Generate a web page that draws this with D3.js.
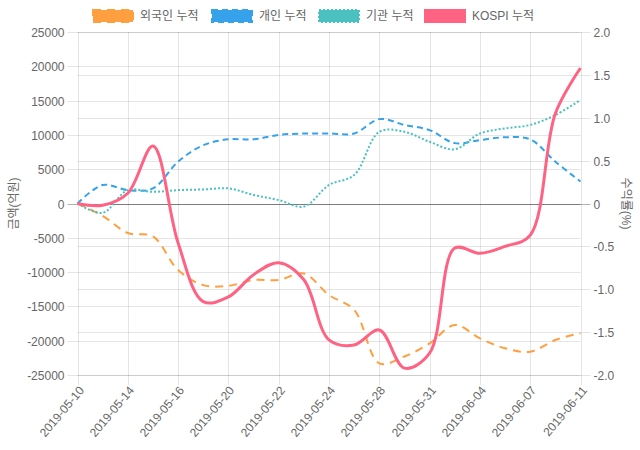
<!DOCTYPE html>
<html><head><meta charset="utf-8">
<script src="https://cdn.jsdelivr.net/npm/d3@7"></script>
<style>
html,body{margin:0;padding:0;background:#fff;}
text{font-family:"Liberation Sans","Noto Sans CJK KR",Arial,sans-serif;fill:#666;font-size:12px;}
</style></head>
<body>
<svg id="c" width="640" height="450"></svg>
<script>
const dates = ["2019-05-10","2019-05-13","2019-05-14","2019-05-15","2019-05-16","2019-05-17","2019-05-20","2019-05-21","2019-05-22","2019-05-23","2019-05-24","2019-05-27","2019-05-28","2019-05-29","2019-05-31","2019-06-03","2019-06-04","2019-06-05","2019-06-07","2019-06-10","2019-06-11"];
const foreign = [0,-1800,-4300,-4800,-9700,-11900,-12000,-11150,-11150,-10200,-13350,-15500,-23300,-22300,-20400,-17700,-19650,-21100,-21600,-19900,-18900];
const individual = [0,2700,1950,2200,6100,8500,9350,9350,10000,10200,10200,10200,12300,11450,10700,8800,9250,9650,9350,6100,3200];
const institution = [0,-1350,1950,1700,1950,2050,2200,1250,500,-450,2700,4150,10450,10450,9000,7900,10200,10950,11450,12900,15100];
const kospi = [0,-0.02,0.12,0.67,-0.46,-1.145,-1.09,-0.83,-0.69,-0.89,-1.59,-1.65,-1.475,-1.92,-1.745,-0.52,-0.58,-0.50,-0.37,1.05,1.58];
const leftTicks = [25000,20000,15000,10000,5000,0,-5000,-10000,-15000,-20000,-25000];
const rightTicks = [2.0,1.5,1.0,0.5,0,-0.5,-1.0,-1.5,-2.0];
const seriesNames = ["외국인 누적","개인 누적","기관 누적","KOSPI 누적"];
const seriesColors = ["#FF9F40","#36A2EB","#4BC0C0","#FF6384"];

const svg = d3.select("#c");
const L = 77.5, R = 580.5, T = 32, B = 375;
const x = d3.scalePoint().domain(dates).range([L, R]);
const yL = d3.scaleLinear().domain([-25000,25000]).range([B, T]);
const yR = d3.scaleLinear().domain([-2,2]).range([B, T]);
const grid = "rgba(0,0,0,0.1)";

leftTicks.forEach(v=>{
  const y = Math.round(yL(v))+0.5;
  svg.append("line").attr("x1",L-10).attr("x2",R).attr("y1",y).attr("y2",y)
    .attr("stroke", v===0 ? "rgba(0,0,0,0.3)" : grid).attr("stroke-width",1);
  svg.append("text").attr("x",L-13).attr("y",y).attr("dy","0.35em").attr("text-anchor","end")
    .text(v);
});
rightTicks.forEach(v=>{
  const y = Math.round(yR(v))+0.5;
  svg.append("line").attr("x1",L).attr("x2",R+10).attr("y1",y).attr("y2",y)
    .attr("stroke", v===0 ? "rgba(0,0,0,0.3)" : grid).attr("stroke-width",1);
  svg.append("text").attr("x",R+13).attr("y",y).attr("dy","0.35em").attr("text-anchor","start")
    .text(v===0 ? "0" : v.toFixed(1));
});
dates.forEach((d,i)=>{
  if (i % 2 !== 0) return;
  const xx = Math.round(x(d))+0.5;
  svg.append("line").attr("x1",xx).attr("x2",xx).attr("y1",T).attr("y2",B+10)
    .attr("stroke",grid);
  svg.append("text").attr("transform",`translate(${xx+3},${B+13}) rotate(-50)`)
    .attr("text-anchor","end").attr("dy","0.35em").text(d);
});
svg.append("text").attr("transform",`translate(14,${(T+B)/2}) rotate(-90)`)
  .attr("text-anchor","middle").attr("dy","0.35em").text("금액(억원)");
svg.append("text").attr("transform",`translate(626,${(T+B)/2}) rotate(90)`)
  .attr("text-anchor","middle").attr("dy","0.35em").text("수익률(%)");

const curve = d3.curveCatmullRom.alpha(0.5);
const lineL = d3.line().x((d,i)=>x(dates[i])).y(d=>yL(d)).curve(curve);
const lineR = d3.line().x((d,i)=>x(dates[i])).y(d=>yR(d)).curve(curve);
const g = svg.append("g");
const styles = [
  {data:foreign, gen:lineL, dash:"8,6", w:2},
  {data:individual, gen:lineL, dash:"6,4", w:2},
  {data:institution, gen:lineL, dash:"2,2", w:2},
  {data:kospi, gen:lineR, dash:null, w:3}
];
styles.forEach((s,i)=>{
  g.append("path").attr("d",s.gen(s.data)).attr("fill","none")
    .attr("stroke",seriesColors[i]).attr("stroke-width",s.w)
    .attr("stroke-dasharray",s.dash);
});
const legX = [93,212,319,425];
seriesNames.forEach((n,i)=>{
  svg.append("rect").attr("x",legX[i]).attr("y",10).attr("width",40).attr("height",12)
    .attr("fill",seriesColors[i]).attr("stroke",seriesColors[i]).attr("stroke-width",2)
    .attr("stroke-dasharray",styles[i].dash);
  svg.append("text").attr("x",legX[i]+47).attr("y",16).attr("dy","0.35em").text(n);
});
</script>
</body></html>
